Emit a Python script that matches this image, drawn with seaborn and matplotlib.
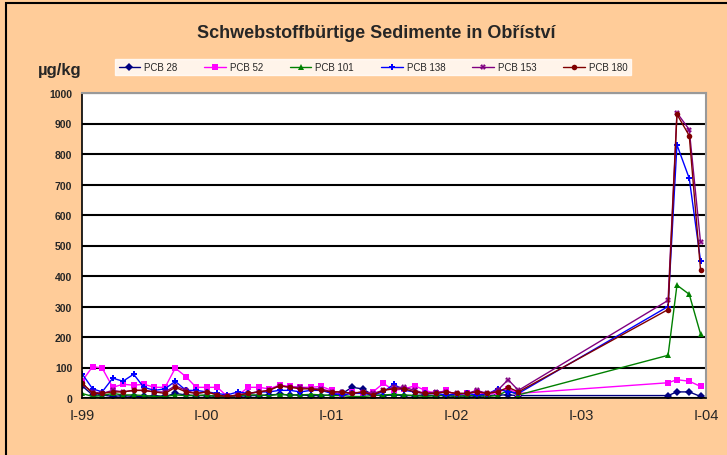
import pandas as pd
import numpy as np
import matplotlib
matplotlib.use("Agg")
import matplotlib.pyplot as plt
from matplotlib.patches import Rectangle
import seaborn as sns

# monthly samples Jan 1999 - Jul 2002, then four samples late 2003
monthly_dates = pd.date_range("1999-01-01", periods=43, freq="MS")
late_dates = pd.to_datetime(["2003-09-12", "2003-10-08", "2003-11-13", "2003-12-16"])
dates = monthly_dates.append(late_dates)

pcb28 = [40, 10, 10, 5, 8, 5, 5, 8, 5, 15, 10, 8, 8, 5, 3, 5, 8, 8, 10, 12, 10, 10, 8, 8,
         10, 15, 35, 30, 10, 8, 10, 8, 8, 10, 8, 8, 5, 8, 5, 8, 10, 10, 8,
         8, 20, 20, 5]
pcb52 = [55, 103, 98, 35, 45, 42, 45, 35, 35, 98, 70, 35, 35, 35, 5, 8, 35, 35, 30, 42, 38, 35, 35, 38,
         25, 5, 20, 15, 20, 48, 25, 30, 40, 25, 15, 25, 10, 15, 20, 10, 20, 30, 15,
         50, 60, 55, 38]
pcb101 = [15, 5, 8, 15, 10, 10, 8, 5, 5, 10, 8, 8, 10, 5, 3, 8, 10, 10, 8, 12, 10, 10, 12, 10,
          8, 8, 5, 5, 8, 10, 12, 10, 8, 5, 8, 10, 5, 8, 10, 5, 8, 25, 10,
          140, 370, 340, 210]
pcb138 = [80, 30, 20, 65, 55, 78, 35, 25, 30, 55, 25, 25, 20, 15, 10, 20, 15, 20, 20, 25, 25, 20, 25, 25,
          15, 10, 15, 15, 10, 20, 45, 25, 20, 15, 15, 10, 12, 15, 10, 12, 30, 20, 15,
          300, 830, 720, 450]
pcb153 = [45, 20, 15, 25, 20, 25, 25, 20, 20, 40, 25, 15, 20, 10, 5, 10, 15, 20, 25, 40, 35, 35, 30, 30,
          20, 20, 15, 20, 15, 25, 35, 35, 25, 15, 20, 20, 15, 15, 25, 15, 25, 60, 25,
          320, 935, 880, 510]
pcb180 = [50, 15, 15, 20, 20, 25, 25, 20, 15, 35, 20, 15, 20, 10, 5, 10, 15, 20, 25, 40, 35, 30, 30, 25,
          20, 20, 15, 20, 10, 25, 30, 30, 20, 15, 15, 20, 15, 15, 20, 15, 20, 35, 20,
          290, 930, 860, 420]

series_names = ["PCB 28", "PCB 52", "PCB 101", "PCB 138", "PCB 153", "PCB 180"]
series_values = [pcb28, pcb52, pcb101, pcb138, pcb153, pcb180]
year_ticks = pd.to_datetime(["1999-01-01", "2000-01-01", "2001-01-01",
                             "2002-01-01", "2003-01-01", "2004-01-01"])
year_labels = ["I-99", "I-00", "I-01", "I-02", "I-03", "I-04"]

df = pd.concat(
    [pd.DataFrame({"date": dates, "value": v, "pcb": n}) for n, v in zip(series_names, series_values)],
    ignore_index=True,
)

colors = {"PCB 28": "#000080", "PCB 52": "#FF00FF", "PCB 101": "#008000",
          "PCB 138": "#0000FF", "PCB 153": "#800080", "PCB 180": "#800000"}
markers = {"PCB 28": "D", "PCB 52": "s", "PCB 101": "^",
           "PCB 138": "P", "PCB 153": "X", "PCB 180": "o"}

sns.set_style("white")
plt.rcParams["font.family"] = ["Liberation Sans Narrow", "Liberation Sans", "DejaVu Sans"]

fig = plt.figure(figsize=(7.27, 4.56), dpi=100)
fig.patch.set_facecolor("#FFCC99")
fig.patches.append(Rectangle((6 / 727, -0.1), 1.2, 1 - 4 / 456 + 0.1, transform=fig.transFigure,
                             fill=False, edgecolor="black", linewidth=1.5))

ax = fig.add_axes([82 / 727, 57 / 456, 624 / 727, 305 / 456])
ax.set_facecolor("white")

sns.lineplot(data=df, x="date", y="value", hue="pcb", style="pcb",
             palette=colors, markers=markers, dashes=False,
             markersize=4, linewidth=1.0, markeredgewidth=0, ax=ax)

ax.set_xlim(year_ticks[0], year_ticks[-1])
ax.set_ylim(0, 1000)
ax.set_yticks(np.arange(0, 1001, 100))
ax.set_xticks(year_ticks)
ax.set_xticklabels(year_labels, fontsize=10.5)
ax.tick_params(axis="y", labelsize=7.5, length=4, width=1, direction="out", pad=3)
ax.tick_params(axis="x", length=4, width=1, direction="out", pad=3)
for lab in ax.get_yticklabels():
    lab.set_fontweight("bold")
ax.set_xlabel("")
ax.set_ylabel("")
ax.yaxis.grid(True, color="black", linewidth=1.5)
ax.set_axisbelow(True)
for side in ["top", "right"]:
    ax.spines[side].set_color("#999999")
    ax.spines[side].set_linewidth(1.5)
for side in ["left", "bottom"]:
    ax.spines[side].set_color("black")
    ax.spines[side].set_linewidth(1.2)

handles, labels = ax.get_legend_handles_labels()
leg = fig.legend(handles, labels, loc="center", bbox_to_anchor=(373 / 727, 1 - 68 / 456),
                 ncol=6, frameon=True, fontsize=7, handlelength=2.2, columnspacing=2.8,
                 handletextpad=0.4, borderpad=0.35, fancybox=False)
leg.get_frame().set_facecolor("white")
leg.get_frame().set_edgecolor("white")
ax.get_legend().remove()

fig.text(376 / 727, 1 - 34 / 456, "Schwebstoffbürtige Sedimente in Obříství",
         ha="center", va="center", fontsize=13, fontweight="bold")
fig.text(38 / 727, 1 - 71 / 456, "µg/kg", ha="left", va="center", fontsize=12, fontweight="bold")

fig.savefig("out.png", dpi=100, facecolor=fig.get_facecolor())
